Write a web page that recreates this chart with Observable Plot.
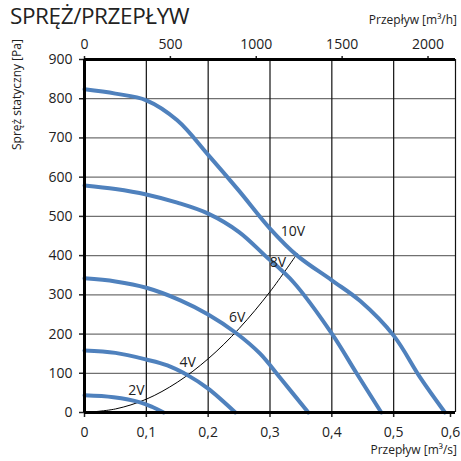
<!DOCTYPE html>
<html><head><meta charset="utf-8">
<script src="https://cdn.jsdelivr.net/npm/d3@7"></script>
<script src="https://cdn.jsdelivr.net/npm/@observablehq/plot@0.6"></script>
<style>
body{margin:0;background:#fff;font-family:"Open Sans",sans-serif;}
#wrap{position:relative;width:461px;height:461px;}
.t{position:absolute;color:#222;white-space:nowrap;line-height:1.3;}
#title{left:10px;top:0px;font-size:22.5px;line-height:normal;letter-spacing:-0.4px;}
#topLabel{right:4px;top:12px;font-size:12px;}
#botLabel{right:4px;top:442px;font-size:12px;}
#yLabel{left:9px;top:150px;font-size:12px;transform-origin:0 0;transform:rotate(-90deg);}
#chart{position:absolute;left:0;top:0;}
</style></head><body>
<div id="wrap">
<div id="chart"></div>
<div class="t" id="title">SPRĘŻ/PRZEPŁYW</div>
<div class="t" id="topLabel">Przepływ [m³/h]</div>
<div class="t" id="botLabel">Przepływ [m³/s]</div>
<div class="t" id="yLabel">Spręż statyczny [Pa]</div>
</div>
<script>
// Tick values
const flowTicks = [0, 0.1, 0.2, 0.3, 0.4, 0.5, 0.6];        // m3/s (bottom)
const hourTicks = [0, 500, 1000, 1500, 2000];               // m3/h (top)
const pressTicks = [0, 100, 200, 300, 400, 500, 600, 700, 800, 900];

// Fan curves (flow m3/s, pressure Pa)
const flow10 = [0, 0.05, 0.1, 0.15, 0.2, 0.25, 0.3, 0.344, 0.4, 0.446, 0.5, 0.543, 0.583];
const press10 = [824, 813, 796, 745, 657, 565, 469, 400, 337, 284, 196, 89, 0];
const flow8 = [0, 0.05, 0.1, 0.15, 0.2, 0.25, 0.292, 0.338, 0.4, 0.44, 0.48];
const press8 = [579, 570, 556, 535, 507, 460, 400, 332, 201, 100, 0];
const flow6 = [0, 0.05, 0.1, 0.155, 0.2, 0.244, 0.284, 0.316, 0.362];
const press6 = [342, 334, 318, 286, 250, 204, 150, 89, 0];
const flow4 = [0, 0.05, 0.1, 0.134, 0.168, 0.2, 0.244];
const press4 = [158, 152, 135, 120, 94, 61, 0];
const flow2 = [0, 0.047, 0.09, 0.11, 0.128];
const press2 = [44, 39, 26, 14, 0];

// System (black) curve
const flowSys = [0, 0.05, 0.1, 0.15, 0.2, 0.25, 0.3, 0.344];
const pressSys = [0, 9, 34, 77, 137, 214, 308, 405];

// Curve labels
const labelText = ["2V", "4V", "6V", "8V", "10V"];
const labelFlow = [0.084, 0.167, 0.247, 0.313, 0.337];
const labelPress = [56, 128, 242, 383, 462];

const series = [
  ["10V", flow10, press10], ["8V", flow8, press8], ["6V", flow6, press6],
  ["4V", flow4, press4], ["2V", flow2, press2]
];
const curves = series.flatMap(([v, xs, ys]) => xs.map((x, i) => ({v, flow: x, press: ys[i]})));
const sys = flowSys.map((x, i) => ({flow: x, press: pressSys[i]}));
const labels = labelText.map((t, i) => ({t, flow: labelFlow[i], press: labelPress[i]}));

const fmtComma = d => String(d).replace(".", ",");
const lastTick = flowTicks[flowTicks.length - 1];

const chart = Plot.plot({
  width: 461, height: 461,
  marginTop: 59, marginBottom: 49, marginLeft: 84, marginRight: 6,
  style: {fontFamily: "Open Sans", fontSize: "14px", color: "#222", background: "transparent"},
  x: {domain: [0, 0.6]},
  y: {domain: [0, 900]},
  marks: [
    Plot.gridY(pressTicks.filter(d => d > 0), {stroke: "#707070", strokeOpacity: 1, strokeWidth: 1.2}),
    Plot.gridX(flowTicks.filter(d => d > 0), {stroke: "#111", strokeOpacity: 1, strokeWidth: 1.2}),
    Plot.axisX(flowTicks.slice(0, -1), {anchor: "bottom", tickSize: 5, tickPadding: 10, tickFormat: fmtComma, label: null, strokeWidth: 1.5, fontSize: 14}),
    Plot.axisX([lastTick], {anchor: "bottom", tickSize: 5, tickPadding: 10, tickFormat: fmtComma, label: null, strokeWidth: 1.5, fontSize: 14, dx: -5}),
    Plot.axisX(hourTicks.map(v => v / 3600), {anchor: "top", tickSize: 4, tickPadding: 7, tickFormat: d => String(Math.round(d * 3600)), label: null, strokeWidth: 1.5, fontSize: 14}),
    Plot.axisY(pressTicks, {anchor: "left", tickSize: 5, tickPadding: 7, label: null, strokeWidth: 1.5, fontSize: 14}),
    Plot.line(sys, {x: "flow", y: "press", stroke: "#000", strokeWidth: 1, curve: "catmull-rom"}),
    Plot.line(curves, {x: "flow", y: "press", z: "v", stroke: "#4f81bd", strokeWidth: 4, curve: "catmull-rom"}),
    Plot.text(labels, {x: "flow", y: "press", text: "t", fontSize: 14, fill: "#222"}),
    Plot.ruleX([0], {stroke: "#000", strokeWidth: 3}),
    Plot.ruleY([0, 900], {stroke: "#000", strokeWidth: 3})
  ]
});
document.getElementById("chart").appendChild(chart);
</script>
</body></html>
